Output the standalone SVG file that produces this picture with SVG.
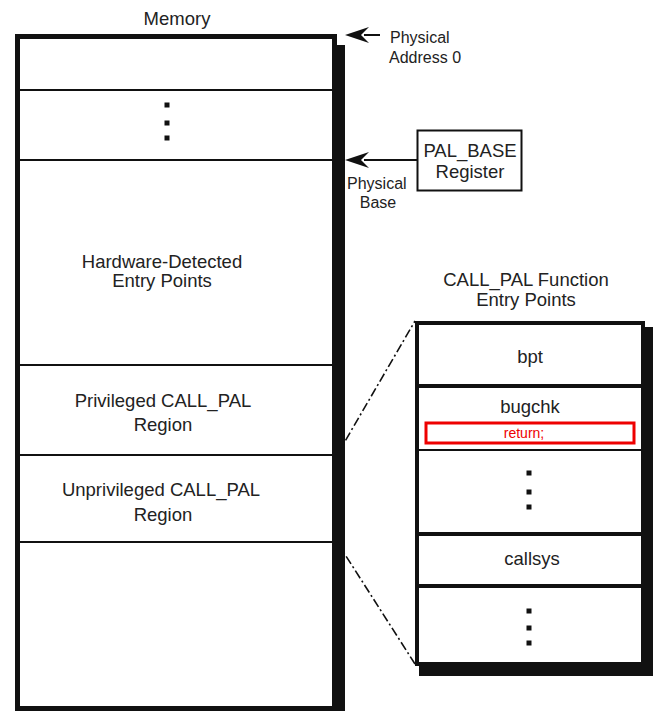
<svg xmlns="http://www.w3.org/2000/svg" width="656" height="711" viewBox="0 0 656 711">
<style>
  text { font-family: "Liberation Sans", Arial, sans-serif; fill: #222; }
  .lbl { font-size: 18.5px; text-anchor: middle; }
  .sm { font-size: 16px; }
  .box { fill: #fff; stroke: #111; }
  .sep { stroke: #111; }
  .dot { fill: #111; }
  .dd { stroke: #111; stroke-width: 1.6; stroke-dasharray: 9 3 2 3; fill: none; }
  .arr { stroke: #111; stroke-width: 2; fill: none; }
  .head { fill: #111; }
</style>

<text class="lbl" x="177" y="25">Memory</text>

<g id="memory">
  <rect x="337" y="45" width="8" height="666" fill="#111"/>
  <rect class="box" x="17.5" y="36.5" width="317" height="672" stroke-width="5"/>
  <line class="sep" x1="17" y1="90" x2="337" y2="90" stroke-width="2"/>
  <line class="sep" x1="17" y1="160" x2="337" y2="160" stroke-width="2"/>
  <line class="sep" x1="17" y1="365" x2="337" y2="365" stroke-width="2"/>
  <line class="sep" x1="17" y1="455" x2="337" y2="455" stroke-width="2"/>
  <line class="sep" x1="17" y1="542" x2="337" y2="542" stroke-width="2"/>
  <rect class="dot" x="164.5" y="102.5" width="5" height="5"/>
  <rect class="dot" x="164.5" y="120.5" width="5" height="5"/>
  <rect class="dot" x="164.5" y="135.5" width="5" height="5"/>
  <text class="lbl" x="162" y="268">Hardware-Detected</text>
  <text class="lbl" x="162" y="287">Entry Points</text>
  <text class="lbl" x="163" y="407">Privileged CALL_PAL</text>
  <text class="lbl" x="163" y="431">Region</text>
  <text class="lbl" x="161" y="496">Unprivileged CALL_PAL</text>
  <text class="lbl" x="163" y="521">Region</text>
</g>

<g id="pal_base">
  <rect class="box" x="417.5" y="130.5" width="104" height="60" stroke-width="2"/>
  <text class="lbl" x="470" y="157">PAL_BASE</text>
  <text class="lbl" x="470" y="178">Register</text>
</g>

<g id="labels">
  <text class="sm" x="390" y="43">Physical</text>
  <text class="sm" x="389" y="63">Address 0</text>
  <text class="sm" x="347" y="189">Physical</text>
  <text class="sm" x="378" y="208" text-anchor="middle">Base</text>
</g>

<g id="title">
  <text class="lbl" x="526" y="286">CALL_PAL Function</text>
  <text class="lbl" x="526" y="306">Entry Points</text>
</g>

<g id="callpal">
  <rect x="419" y="327" width="234" height="349" fill="#111"/>
  <rect class="box" x="417" y="323" width="226" height="341" stroke-width="4"/>
  <line class="sep" x1="417" y1="386" x2="643" y2="386" stroke-width="4"/>
  <line class="sep" x1="417" y1="450" x2="643" y2="450" stroke-width="2"/>
  <line class="sep" x1="417" y1="534" x2="643" y2="534" stroke-width="4"/>
  <line class="sep" x1="417" y1="586" x2="643" y2="586" stroke-width="4"/>
  <text class="lbl" x="530" y="363">bpt</text>
  <text class="lbl" x="530" y="413">bugchk</text>
  <rect x="426" y="423" width="208" height="20" fill="none" stroke="#e00" stroke-width="3"/>
  <text x="524" y="438" font-size="14" text-anchor="middle" style="fill:#e00">return;</text>
  <rect class="dot" x="526.5" y="470.5" width="5" height="5"/>
  <rect class="dot" x="526.5" y="489.5" width="5" height="5"/>
  <rect class="dot" x="526.5" y="504.5" width="5" height="5"/>
  <text class="lbl" x="532" y="565">callsys</text>
  <rect class="dot" x="526.5" y="608.5" width="5" height="5"/>
  <rect class="dot" x="526.5" y="625.5" width="5" height="5"/>
  <rect class="dot" x="526.5" y="640.5" width="5" height="5"/>
</g>

<g id="connectors">
  <line class="arr" x1="380" y1="35" x2="364" y2="35"/>
  <path class="head" d="M345,35 L369,27 L361,35 L369,43 Z"/>
  <line class="arr" x1="417" y1="160" x2="364" y2="160"/>
  <path class="head" d="M345,160 L369,152 L361,160 L369,168 Z"/>
  <line class="dd" x1="337" y1="455" x2="415" y2="321"/>
  <line class="dd" x1="337" y1="542" x2="415" y2="664"/>
</g>
</svg>
